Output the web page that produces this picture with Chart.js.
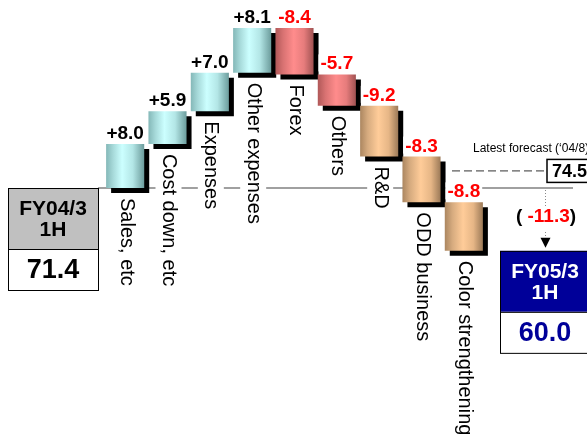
<!DOCTYPE html>
<html>
<head>
<meta charset="utf-8">
<script src="https://cdn.jsdelivr.net/npm/chart.js@4/dist/chart.umd.min.js"></script>
<style>
  html, body { margin: 0; padding: 0; background: #fff; }
  canvas { display: block; }
</style>
</head>
<body>
<canvas id="bridge" width="587" height="435"></canvas>
<script>
// Operating profit bridge, FY04/3 1H -> FY05/3 1H
const categories = ['Sales, etc', 'Cost down, etc', 'Expenses', 'Other expenses', 'Forex',
                    'Others', 'R&D', 'ODD business', 'Color strengthening'];
const changes = [8.0, 5.9, 7.0, 8.1, -8.4, -5.7, -9.2, -8.3, -8.8];
const barGroups = ['gain', 'gain', 'gain', 'gain', 'fx', 'fx', 'cost', 'cost', 'cost'];
const startValue = 71.4;
const endValue = 60.0;
const forecastValue = 74.5;
const forecastGap = -11.3;
const startTitle = ['FY04/3', '1H'];
const endTitle = ['FY05/3', '1H'];
const forecastTitle = 'Latest forecast (\u201804/8)';

// running totals -> floating [from, to] ranges
const ranges = [];
let level = startValue;
changes.forEach(d => { ranges.push([level, +(level + d).toFixed(1)]); level += d; });

const palettes = {
  gain: [[0, '#84b8b8'], [0.18, '#a6d9d9'], [0.42, '#ccffff'], [0.7, '#b3e6e6'], [1, '#6c9c9c']],
  fx:   [[0, '#b05858'], [0.2, '#d87272'], [0.48, '#ff8c8c'], [0.75, '#e67c7c'], [1, '#a05252']],
  cost: [[0, '#ab8660'], [0.2, '#d6ab7f'], [0.48, '#ffcc99'], [0.75, '#e6b686'], [1, '#9c7a58']]
};
const flatColors = { gain: '#b3e6e6', fx: '#e67c7c', cost: '#e6b686' };

const font = (weight, size) => `${weight} ${size}px "Liberation Sans", Arial, sans-serif`;

function barFill(c) {
  const chart = c.chart;
  const xs = chart.scales && chart.scales.x;
  if (c.dataIndex === undefined) return '#ccc';
  const group = barGroups[c.dataIndex];
  if (!xs) return flatColors[group];
  const cx = xs.getPixelForValue(c.dataIndex);
  const half = (xs.getPixelForValue(1) - xs.getPixelForValue(0)) * 0.45;
  if (!isFinite(cx) || !isFinite(half)) return flatColors[group];
  const g = chart.ctx.createLinearGradient(cx - half, 0, cx + half, 0);
  palettes[group].forEach(([o, col]) => g.addColorStop(o, col));
  return g;
}

function drawBox(ctx, x0, top, w, headFill, headColor, title, value, valueColor) {
  const headH = 61, valH = 41;
  ctx.fillStyle = headFill;
  ctx.fillRect(x0, top, w, headH);
  ctx.fillStyle = '#fff';
  ctx.fillRect(x0, top + headH, w, valH);
  ctx.strokeStyle = '#000';
  ctx.lineWidth = 1;
  ctx.strokeRect(x0 + 0.5, top + 0.5, w, headH + valH);
  ctx.beginPath();
  ctx.moveTo(x0, top + headH + 0.5); ctx.lineTo(x0 + w, top + headH + 0.5);
  ctx.stroke();
  ctx.textAlign = 'center';
  ctx.textBaseline = 'middle';
  ctx.fillStyle = headColor;
  ctx.font = font('bold', 21);
  ctx.fillText(title[0], x0 + w / 2, top + 21);
  ctx.fillText(title[1], x0 + w / 2, top + 42);
  ctx.fillStyle = valueColor;
  ctx.font = font('bold', 27);
  ctx.fillText(value.toFixed(1), x0 + w / 2, top + 83);
}

const bridgeDecor = {
  id: 'bridgeDecor',
  beforeDatasetsDraw(chart) {
    const { ctx, chartArea: a, scales: { y } } = chart;
    const base = y.getPixelForValue(startValue);
    ctx.save();
    ctx.strokeStyle = '#808080';
    ctx.lineWidth = 1.5;
    ctx.beginPath();
    ctx.moveTo(a.left - 6, base); ctx.lineTo(a.right + 88, base);
    ctx.stroke();
    const fy = y.getPixelForValue(forecastValue);
    ctx.strokeStyle = '#333';
    ctx.lineWidth = 1;
    ctx.setLineDash([8, 4]);
    ctx.beginPath();
    ctx.moveTo(a.right - 33, fy); ctx.lineTo(a.right + 62, fy);
    ctx.stroke();
    ctx.restore();
  },
  beforeDatasetDraw(chart) {
    const ctx = chart.ctx;
    ctx.save();
    ctx.shadowColor = '#000';
    ctx.shadowOffsetX = 5;
    ctx.shadowOffsetY = 5;
    ctx.shadowBlur = 0;
  },
  afterDatasetDraw(chart) {
    chart.ctx.restore();
  },
  afterDatasetsDraw(chart) {
    const { ctx, chartArea: a, scales: { y } } = chart;
    const bars = chart.getDatasetMeta(0).data;
    ctx.save();

    // category names, rotated, below each bar
    ctx.font = font('normal', 20);
    ctx.textAlign = 'left';
    ctx.textBaseline = 'middle';
    bars.forEach((bar, i) => {
      const bottom = Math.max(bar.y, bar.base);
      const w = ctx.measureText(categories[i]).width;
      ctx.save();
      ctx.translate(bar.x + 1, bottom + 10);
      ctx.rotate(Math.PI / 2);
      ctx.fillStyle = '#fff';
      ctx.fillRect(-3, -13, w + 6, 26);
      ctx.fillStyle = '#000';
      ctx.fillText(categories[i], 0, 0);
      ctx.restore();
    });

    // change values above each bar
    ctx.font = font('bold', 19);
    ctx.textAlign = 'center';
    ctx.textBaseline = 'alphabetic';
    bars.forEach((bar, i) => {
      const top = Math.min(bar.y, bar.base);
      const d = changes[i];
      const txt = (d > 0 ? '+' : '') + d.toFixed(1);
      const w = ctx.measureText(txt).width;
      ctx.fillStyle = '#fff';
      ctx.fillRect(bar.x - w / 2 - 2, top - 20, w + 4, 17);
      ctx.fillStyle = d > 0 ? '#000' : '#ff0000';
      ctx.fillText(txt, bar.x, top - 5);
    });

    // start / end boxes
    const baseY = y.getPixelForValue(startValue);
    const endY = y.getPixelForValue(endValue);
    drawBox(ctx, a.left - 96, baseY, 90, '#c0c0c0', '#000', startTitle, startValue, '#000');
    const rx = a.right + 15;
    drawBox(ctx, rx, endY, 90, '#000099', '#fff', endTitle, endValue, '#000099');

    // latest forecast marker
    const fy = y.getPixelForValue(forecastValue);
    ctx.fillStyle = '#fff';
    ctx.fillRect(a.right + 62, fy - 11.5, 60, 23);
    ctx.strokeStyle = '#000';
    ctx.lineWidth = 1.5;
    ctx.strokeRect(a.right + 62, fy - 11.5, 60, 23);
    ctx.fillStyle = '#000';
    ctx.font = font('bold', 18);
    ctx.textAlign = 'left';
    ctx.textBaseline = 'middle';
    ctx.fillText(forecastValue.toFixed(1), a.right + 67, fy + 1);
    ctx.font = font('normal', 12);
    ctx.fillText(forecastTitle, a.right - 12, fy - 22);

    // gap arrow down to the end box
    const ax = rx + 45;
    const textY = baseY + 29;
    ctx.strokeStyle = '#888';
    ctx.lineWidth = 1;
    ctx.setLineDash([1, 2]);
    ctx.beginPath();
    ctx.moveTo(ax + 0.5, baseY + 2); ctx.lineTo(ax + 0.5, textY - 9);
    ctx.moveTo(ax + 0.5, textY + 15); ctx.lineTo(ax + 0.5, endY - 11);
    ctx.stroke();
    ctx.setLineDash([]);
    ctx.fillStyle = '#000';
    ctx.beginPath();
    ctx.moveTo(ax - 4.5, endY - 13); ctx.lineTo(ax + 5.5, endY - 13); ctx.lineTo(ax + 0.5, endY - 3);
    ctx.closePath();
    ctx.fill();

    ctx.font = font('bold', 19);
    const p1 = '( ', p2 = forecastGap.toFixed(1), p3 = ')';
    const w1 = ctx.measureText(p1).width, w2 = ctx.measureText(p2).width, w3 = ctx.measureText(p3).width;
    let tx = ax - (w1 + w2 + w3) / 2 + 1;
    ctx.fillStyle = '#000'; ctx.fillText(p1, tx, textY); tx += w1;
    ctx.fillStyle = '#ff0000'; ctx.fillText(p2, tx, textY); tx += w2;
    ctx.fillStyle = '#000'; ctx.fillText(p3, tx, textY);

    ctx.restore();
  }
};

new Chart(document.getElementById('bridge'), {
  type: 'bar',
  data: {
    labels: categories,
    datasets: [{
      data: ranges,
      backgroundColor: barFill,
      borderWidth: 0,
      borderSkipped: false,
      barPercentage: 0.9,
      categoryPercentage: 1.0,
      clip: false
    }]
  },
  options: {
    responsive: false,
    animation: false,
    events: [],
    devicePixelRatio: 1,
    layout: { padding: { left: 104, right: 102, top: 0, bottom: 0 } },
    scales: {
      x: { display: false },
      y: { display: false, min: 26.6, max: 105.5 }
    },
    plugins: { legend: { display: false }, tooltip: { enabled: false } }
  },
  plugins: [bridgeDecor]
});
</script>
</body>
</html>
